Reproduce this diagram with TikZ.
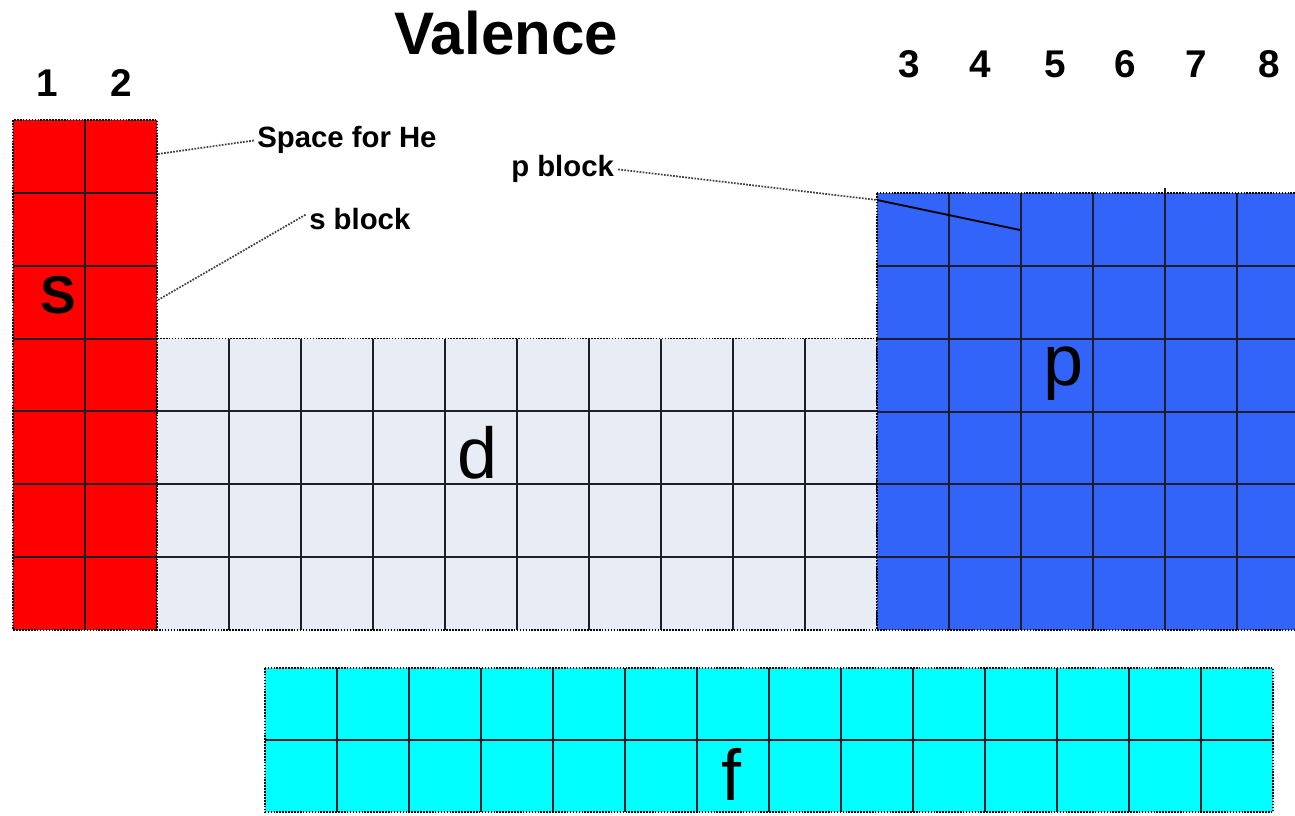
\documentclass[tikz,border=0pt]{standalone}
\usepackage{fontspec}
\setmainfont{Liberation Sans}
\definecolor{sred}{RGB}{255,0,0}
\definecolor{dgray}{RGB}{232,236,245}
\definecolor{pblue}{RGB}{50,100,250}
\definecolor{fcyan}{RGB}{0,255,255}
\definecolor{gridc}{RGB}{30,30,40}
\tikzset{
  gridline/.style={draw=gridc, line width=1.5pt},
  border/.style={draw=black, line width=1.2pt, densely dotted},
  leader/.style={draw=black!75, line width=1.3pt, densely dotted},
  num/.style={font=\bfseries\fontsize{29}{30}\selectfont, inner sep=0pt, anchor=base},
  lbl/.style={font=\bfseries\fontsize{22}{24}\selectfont, inner sep=0pt, anchor=base west},
  big/.style={font=\fontsize{54}{56}\selectfont, inner sep=0pt, anchor=base},
}
\begin{document}
\begin{tikzpicture}[x=0.75pt, y=-0.75pt]
\useasboundingbox (0,0) rectangle (1295,816);
\clip (0,0) rectangle (1295,816);
% s block
\fill[sred] (13,120) rectangle (157,630);
\foreach \j in {1,...,6} \draw[gridline] (13,120+\j*72.857) -- (157,120+\j*72.857);
\draw[gridline] (85,120) -- (85,630);
\draw[border] (13,120) rectangle (157,630);
% d block
\fill[dgray] (157,338.6) rectangle (877,630);
\foreach \j in {1,2,3} \draw[gridline] (157,338.6+\j*72.857) -- (877,338.6+\j*72.857);
\foreach \i in {1,...,9} \draw[gridline] (157+\i*72,338.6) -- (157+\i*72,630);
\draw[border] (157,338.6) rectangle (877,630);
% p block
\fill[pblue] (877,193) rectangle (1309,630);
\foreach \j in {1,...,5} \draw[gridline] (877,193+\j*72.857) -- (1309,193+\j*72.857);
\foreach \i in {1,...,5} \draw[gridline] (877+\i*72,193) -- (877+\i*72,630);
\draw[gridline] (1165,188) -- (1165,193);
\draw[border] (877,193) rectangle (1309,630);
% f block
\fill[fcyan] (265,668) rectangle (1273,812);
\draw[gridline] (265,740) -- (1273,740);
\foreach \i in {1,...,13} \draw[gridline] (265+\i*72,668) -- (265+\i*72,812);
\draw[border] (265,668) rectangle (1273,812);
% titles and numbers
\node[font=\bfseries\fontsize{45}{48}\selectfont, inner sep=0pt, anchor=base] (val) at (506,55) {Valence};
\node[num] (n1) at (47,97) {1};
\node[num] (n2) at (121,97) {2};
\node[num] (n3) at (909,78) {3};
\node[num] (n4) at (980,78) {4};
\node[num] (n5) at (1055,78) {5};
\node[num] (n6) at (1125,78) {6};
\node[num] (n7) at (1196,78) {7};
\node[num] (n8) at (1269,78) {8};
% block letters
\node[font=\bfseries\fontsize{40}{42}\selectfont, inner sep=0pt, anchor=base] (ls) at (58,314) {S};
\node[big] (ld) at (478,478) {d};
\node[big] (lp) at (1064,386) {p};
\node[big] (lf) at (731,800) {f};
% labels and leaders
\node[lbl] (he) at (257,148) {Space for He};
\node[lbl] (sb) at (309,230) {s block};
\node[lbl] (pb) at (511,177) {p block};
\coordinate (heA) at (158,154);
\coordinate (sbA) at (158,300);
\coordinate (pbM) at (877,200);
\coordinate (pbA) at (1020,230);
\draw[leader] (heA) -- ([xshift=-2pt]he.west);
\draw[leader] (sbA) -- ([xshift=-2pt,yshift=4pt]sb.west);
\draw[leader] ([xshift=3pt]pb.east) -- (pbM);
\draw[black, line width=1.4pt] (pbM) -- (pbA);
\end{tikzpicture}
\end{document}
